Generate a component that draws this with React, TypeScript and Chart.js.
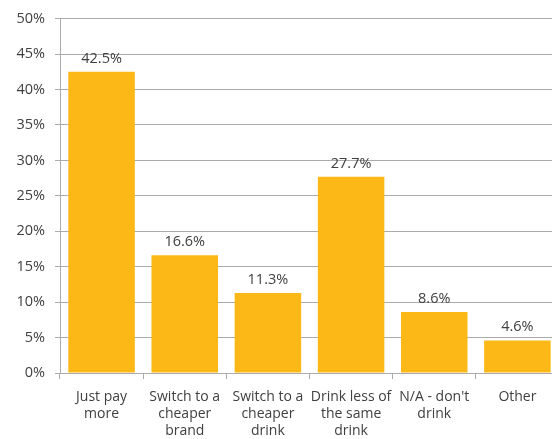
import React, { useEffect, useRef } from "react";
import { Chart, registerables } from "chart.js";

Chart.register(...registerables);

const categories: string[][] = [
  ["Just pay", "more"],
  ["Switch to a", "cheaper", "brand"],
  ["Switch to a", "cheaper", "drink"],
  ["Drink less of", "the same", "drink"],
  ["N/A - don't", "drink"],
  ["Other"],
];
const values: number[] = [42.5, 16.6, 11.3, 27.7, 8.6, 4.6];
const yTicks: number[] = [0, 5, 10, 15, 20, 25, 30, 35, 40, 45, 50];

const FONT = "'Open Sans', 'Noto Sans', sans-serif";
const TEXT = "#404040";
const GRID = "#ababab";
const BAR = "#FBB817";

const valueLabels = {
  id: "valueLabels",
  afterDatasetsDraw(chart: any) {
    const ctx = chart.ctx;
    const meta = chart.getDatasetMeta(0);
    ctx.save();
    ctx.font = `14.5px ${FONT}`;
    ctx.fillStyle = TEXT;
    ctx.textAlign = "center";
    ctx.textBaseline = "alphabetic";
    meta.data.forEach((bar: any, i: number) => {
      ctx.fillText(`${values[i].toFixed(1)}%`, bar.x, bar.y - 9);
    });
    ctx.restore();
  },
};

export default function App() {
  const ref = useRef<HTMLCanvasElement | null>(null);

  useEffect(() => {
    document.body.style.margin = "0";
    document.body.style.overflow = "hidden";
    const canvas = ref.current;
    if (!canvas) return;
    const chart = new Chart(canvas, {
      type: "bar",
      data: {
        labels: categories,
        datasets: [
          {
            data: values,
            backgroundColor: BAR,
            borderWidth: 0,
            barPercentage: 0.8,
            categoryPercentage: 1,
          },
        ],
      },
      options: {
        animation: false,
        responsive: false,
        devicePixelRatio: 1,
        layout: { padding: { top: 17, left: 0, right: 1, bottom: 0 } },
        plugins: {
          legend: { display: false },
          tooltip: { enabled: false },
        },
        scales: {
          x: {
            afterFit(scale: any) {
              scale.height = 66;
            },
            border: { display: true, color: GRID, width: 1 },
            grid: {
              display: true,
              drawOnChartArea: false,
              drawTicks: true,
              tickLength: 6,
              color: GRID,
              offset: true,
            },
            ticks: {
              color: TEXT,
              font: { family: FONT, size: 14, lineHeight: 1.2 },
              padding: 10,
              maxRotation: 0,
              minRotation: 0,
              autoSkip: false,
            },
          },
          y: {
            min: 0,
            max: 50,
            afterFit(scale: any) {
              scale.width = 60;
            },
            afterBuildTicks(scale: any) {
              scale.ticks = yTicks.map((v) => ({ value: v }));
            },
            border: { display: true, color: GRID, width: 1 },
            grid: {
              color: GRID,
              drawTicks: true,
              tickLength: 5,
            },
            ticks: {
              color: TEXT,
              font: { family: FONT, size: 14.5 },
              padding: 10,
              callback: (v: any) => `${v}%`,
            },
          },
        },
      },
      plugins: [valueLabels],
    });
    return () => chart.destroy();
  }, []);

  return (
    <div
      style={{
        position: "absolute",
        left: 0,
        top: 0,
        width: 552,
        height: 439,
        overflow: "hidden",
        background: "#ffffff",
      }}
    >
      <canvas ref={ref} width={560} height={439} style={{ display: "block" }} />
    </div>
  );
}
